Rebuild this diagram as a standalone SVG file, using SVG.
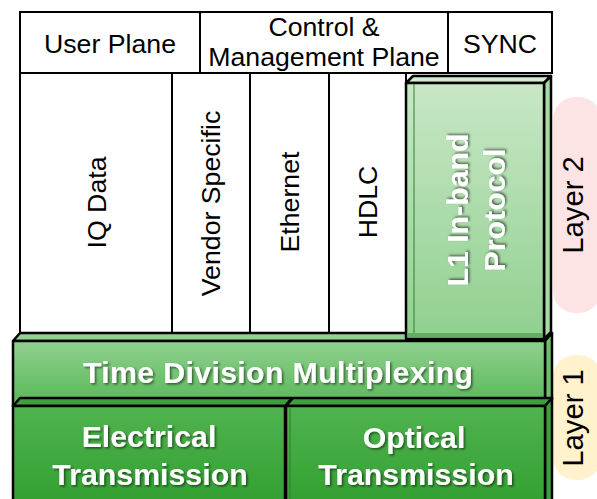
<svg xmlns="http://www.w3.org/2000/svg" width="597" height="499" viewBox="0 0 597 499">
<defs>
<linearGradient id="gL1" x1="0" y1="0" x2="0" y2="1"><stop offset="0" stop-color="#c8e7c6"/><stop offset="1" stop-color="#90d08f"/></linearGradient>
<linearGradient id="gTDM" x1="0" y1="0" x2="0" y2="1"><stop offset="0" stop-color="#90d18f"/><stop offset="1" stop-color="#58b757"/></linearGradient>
<linearGradient id="gTx" x1="0" y1="0" x2="0" y2="1"><stop offset="0" stop-color="#50b34f"/><stop offset="1" stop-color="#33a032"/></linearGradient>
<filter id="sh" x="-10%" y="-30%" width="120%" height="160%"><feDropShadow dx="1.5" dy="1.5" stdDeviation="1" flood-color="#000" flood-opacity="0.55"/></filter>
</defs>
<style>
.box{fill:#fff;stroke:#000;stroke-width:2}
.t{font-family:"Liberation Sans",Arial,sans-serif;font-size:26.7px;fill:#000}
.lay{font-family:"Liberation Sans",Arial,sans-serif;font-size:29.3px;fill:#000}
.w{font-family:"Liberation Sans",Arial,sans-serif;font-weight:bold;font-size:30.3px;fill:#fff;filter:url(#sh)}
.edge{stroke:#000;stroke-width:2.5;stroke-linejoin:round}
.bev{fill:none;stroke:#2e7d2e;stroke-width:1.3;opacity:.75}
</style>

<g id="layer2-label">
<rect x="553" y="97" width="48" height="216" rx="22" fill="#fde4e4"/>
<text class="lay" transform="translate(583,205) rotate(-90)" text-anchor="middle">Layer 2</text>
</g>
<g id="layer1-label">
<rect x="553" y="355" width="48" height="125" rx="22" fill="#fff2cc"/>
<text class="lay" transform="translate(583,418) rotate(-90)" text-anchor="middle">Layer 1</text>
</g>

<g id="user-plane">
<rect class="box" x="20" y="12" width="180" height="61"/>
<text class="t" x="110" y="53" text-anchor="middle">User Plane</text>
</g>
<g id="control-plane">
<rect class="box" x="200" y="12" width="248" height="61"/>
<text class="t" x="324" y="36" text-anchor="middle">Control &amp;</text>
<text class="t" x="324" y="66" text-anchor="middle">Management Plane</text>
</g>
<g id="sync">
<rect class="box" x="448" y="12" width="104" height="61"/>
<text class="t" x="500" y="53" text-anchor="middle">SYNC</text>
</g>

<g id="iq-data">
<rect class="box" x="20" y="73" width="152" height="262"/>
<text class="t" transform="translate(106,202.5) rotate(-90)" text-anchor="middle">IQ Data</text>
</g>
<g id="vendor-specific">
<rect class="box" x="172" y="73" width="78" height="262"/>
<text class="t" transform="translate(220,203.5) rotate(-90)" text-anchor="middle">Vendor Specific</text>
</g>
<g id="ethernet">
<rect class="box" x="250" y="73" width="79" height="262" stroke-width="2.5"/>
<text class="t" transform="translate(299,202) rotate(-90)" text-anchor="middle">Ethernet</text>
</g>
<g id="hdlc">
<rect class="box" x="329" y="73" width="77" height="262"/>
<text class="t" transform="translate(377,202) rotate(-90)" text-anchor="middle">HDLC</text>
</g>

<g id="tdm">
<polygon points="13,341 20,333 552,333 545,341" fill="#93d392" class="edge"/>
<polygon points="545,341 552,333 552,399 545,406" fill="#6cc06b" class="edge"/>
<rect x="13" y="341" width="532" height="65" fill="url(#gTDM)" class="edge"/>
<text class="w" x="278" y="383" text-anchor="middle" textLength="390" lengthAdjust="spacing">Time Division Multiplexing</text>
</g>

<g id="electrical">
<polygon points="13,406 20,398 292,398 285,406" fill="#3f9f3e" class="edge" stroke-width="2"/>
<rect x="13" y="406" width="272" height="96" fill="url(#gTx)" class="edge"/>
<text class="w" x="149" y="447" text-anchor="middle">Electrical</text>
<text class="w" x="150" y="485" text-anchor="middle">Transmission</text>
</g>

<g id="optical">
<polygon points="286,406 293,398 552,398 545,406" fill="#3f9f3e" class="edge" stroke-width="2"/>
<polygon points="545,406 552,398 552,502 545,502" fill="#3c9f3b" class="edge"/>
<rect x="286" y="406" width="259" height="96" fill="url(#gTx)" class="edge"/>
<line x1="290" y1="408" x2="290" y2="499" class="bev"/>
<text class="w" x="414" y="448" text-anchor="middle">Optical</text>
<text class="w" x="416" y="485" text-anchor="middle">Transmission</text>
</g>

<g id="l1-inband">
<polygon points="406,83 413,76 551,76 544,83" fill="#d2ecd0" class="edge"/>
<polygon points="544,83 551,76 551,332 544,339" fill="#a5daa3" class="edge"/>
<rect x="406" y="83" width="138" height="256" fill="url(#gL1)" class="edge"/>
<line x1="414" y1="84" x2="414" y2="333" class="bev"/>
<rect x="407.5" y="333" width="135" height="4.5" fill="#4e9e4c" opacity="0.7"/>
<text class="w" transform="translate(468,210) rotate(-90)" text-anchor="middle">L1 In-band</text>
<text class="w" transform="translate(505,210) rotate(-90)" text-anchor="middle">Protocol</text>
</g>

<g id="connectors"/>
</svg>
